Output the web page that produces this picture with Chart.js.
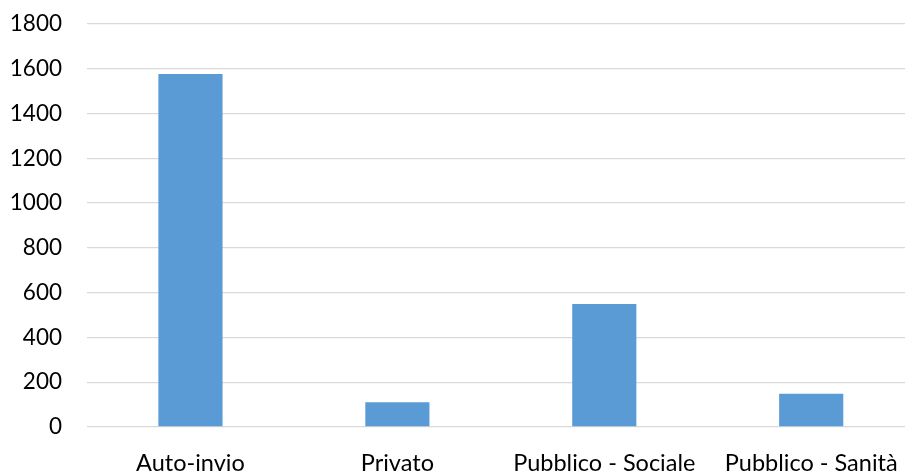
<!DOCTYPE html>
<html>
<head>
<meta charset="utf-8">
<script src="https://cdn.jsdelivr.net/npm/chart.js@4"></script>
<style>
  html, body { margin: 0; padding: 0; background: #fff; overflow: hidden; }
  #wrap { width: 920px; height: 473px; }
</style>
</head>
<body>
<div id="wrap"><canvas id="c" width="920" height="473"></canvas></div>
<script>
// Richieste per canale di invio
const categories = ['Auto-invio', 'Privato', 'Pubblico - Sociale', 'Pubblico - Sanità'];
const values = [1577, 110, 549, 148];
const yTicks = [0, 200, 400, 600, 800, 1000, 1200, 1400, 1600, 1800];

const FONT = 'Lato, "Open Sans", sans-serif';

new Chart(document.getElementById('c'), {
  type: 'bar',
  data: {
    labels: categories,
    datasets: [{
      data: values,
      backgroundColor: '#5B9BD5',
      borderWidth: 0,
      barPercentage: 0.31,
      categoryPercentage: 1.0
    }]
  },
  options: {
    responsive: false,
    animation: false,
    layout: { padding: { top: 0, right: 3, left: 0, bottom: 0 } },
    plugins: { legend: { display: false }, tooltip: { enabled: false } },
    scales: {
      x: {
        grid: { display: false, drawTicks: false },
        border: { display: false },
        ticks: { color: '#000', font: { family: FONT, size: 23.5 }, padding: 22, maxRotation: 0, autoSkip: false },
        afterFit: s => { s.height = 46; }
      },
      y: {
        min: 0,
        max: 1800,
        afterBuildTicks: s => { s.ticks = yTicks.map(v => ({ value: v })); },
        grid: { color: '#d9d9d9', lineWidth: 1.3, drawTicks: false },
        border: { display: false },
        ticks: {
          color: '#000',
          font: { family: FONT, size: 22.5 },
          padding: 25,
          callback: v => String(v)
        },
        afterFit: s => { s.width = 87; s.paddingTop = 24; s.paddingBottom = 0; }
      }
    }
  }
});
</script>
</body>
</html>
